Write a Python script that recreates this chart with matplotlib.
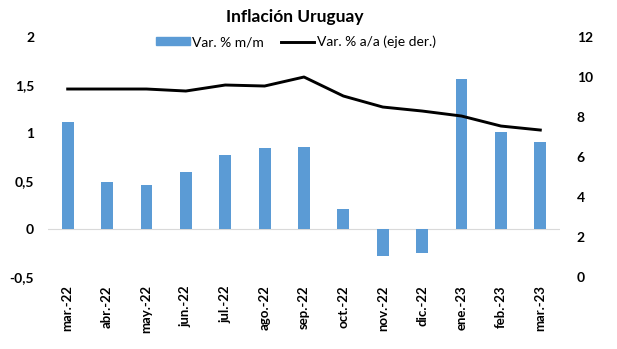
import matplotlib as mpl
import matplotlib.pyplot as plt
from matplotlib.lines import Line2D
from matplotlib.patches import Patch

mpl.rcParams['font.family'] = ['Lato', 'DejaVu Sans']

meses = ["mar.-22", "abr.-22", "may.-22", "jun.-22", "jul.-22", "ago.-22", "sep.-22",
         "oct.-22", "nov.-22", "dic.-22", "ene.-23", "feb.-23", "mar.-23"]
var_mm = [1.12, 0.49, 0.46, 0.59, 0.77, 0.84, 0.85, 0.21, -0.28, -0.25, 1.56, 1.01, 0.91]
var_aa = [9.4, 9.4, 9.4, 9.3, 9.6, 9.55, 10.0, 9.05, 8.5, 8.3, 8.05, 7.55, 7.35]

azul = "#5B9BD5"

fig = plt.figure(figsize=(6.17, 3.49), dpi=100)
ax = fig.add_axes([0.0778, 0.206, 0.8298, 0.688])
ax2 = ax.twinx()

x = range(len(meses))
ax.bar(x, var_mm, width=0.3, color=azul, zorder=2)
ax.axhline(0, color="#d9d9d9", lw=0.8, zorder=1)
ax2.plot(x, var_aa, color="black", lw=2.1, zorder=3)

ax.set_xlim(-0.5, len(meses) - 0.5)
ax.set_ylim(-0.5, 2)
ax2.set_ylim(0, 12)
ax.set_yticks([-0.5, 0, 0.5, 1, 1.5, 2])
ax.set_yticklabels(["-0,5", "0", "0,5", "1", "1,5", "2"])
ax2.set_yticks([0, 2, 4, 6, 8, 10, 12])

ax.set_xticks(list(x))
ax.set_xticklabels(meses, rotation=90, fontweight="bold", fontsize=9.5)
for a in (ax, ax2):
    for s in a.spines.values():
        s.set_visible(False)
    a.tick_params(length=0)
ax.tick_params(axis="y", labelsize=10, pad=10)
ax2.tick_params(axis="y", labelsize=10, pad=12)
ax.tick_params(axis="x", pad=6)
for lab in ax.get_yticklabels() + ax2.get_yticklabels():
    lab.set_fontweight("bold")

fig.text(0.478, 0.95, "Inflación Uruguay", ha="center", va="center",
         fontsize=12.5, fontweight="bold")
handles = [Patch(color=azul), Line2D([0], [0], color="black", lw=2.1)]
fig.legend(handles, ["Var. % m/m", "Var. % a/a (eje der.)"], loc="center",
           bbox_to_anchor=(0.48, 0.88), ncol=2, frameon=False, fontsize=10,
           handlelength=2.4, handleheight=0.5, handletextpad=0.2, columnspacing=1.2)

fig.savefig("out.png", dpi=100)
